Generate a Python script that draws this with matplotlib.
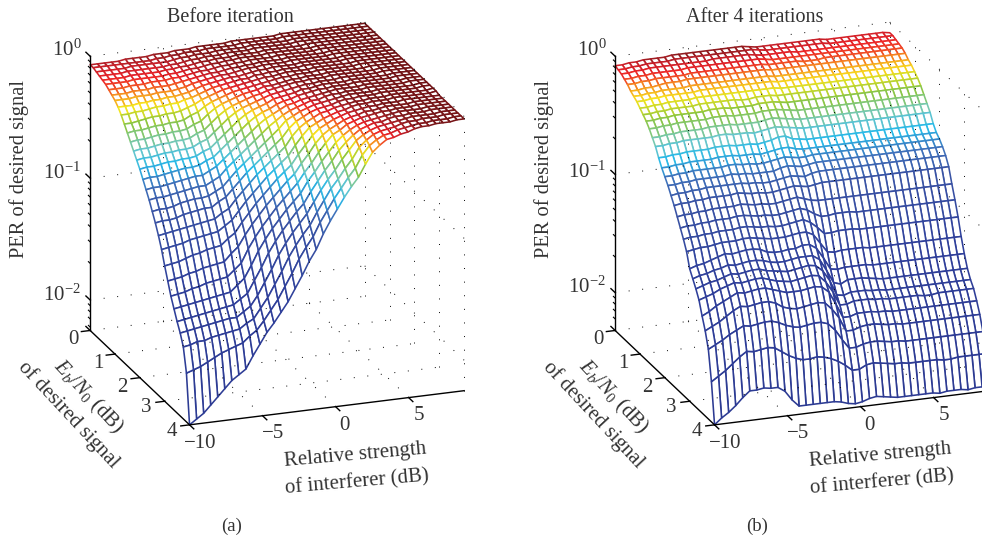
#draw the two PER mesh surfaces (before iteration / after 4 iterations)
import numpy as np
from matplotlib import pyplot as plt
from matplotlib.colors import LinearSegmentedColormap

plt.rcParams['font.family'] = 'Liberation Serif'
plt.rcParams['mathtext.fontset'] = 'custom'
plt.rcParams['mathtext.rm'] = 'Liberation Serif'
plt.rcParams['mathtext.it'] = 'Liberation Serif:italic'

interferer_db = np.linspace(-10, 8.8, 40)
ebn0_db = np.linspace(0, 4, 33)

x_ticks = [-10, -5, 0, 5]
y_ticks = [0, 1, 2, 3, 4]
z_ticks = [-2, -1, 0]

# -100*log10(PER), one list per interferer column, from Eb/N0 = 0 to 4 dB
before_per = [
    [7,7,8,9,10,11,13,15,17,20,24,29,34,39,44,49,54,60,66,72,79,86,94,103,114,124,134,142,150,157,166,185,225],
    [7,7,8,9,10,11,13,15,17,20,24,29,33,38,43,48,53,59,65,71,78,85,93,102,113,123,133,141,149,156,165,183,221],
    [7,7,8,9,10,11,13,15,17,20,23,28,33,38,43,48,53,59,65,71,78,85,92,101,112,122,132,140,148,155,163,181,217],
    [7,7,8,9,10,11,12,14,16,19,23,27,32,37,42,47,52,58,64,70,77,84,91,100,110,120,130,139,147,154,163,178,211],
    [7,7,8,8,9,10,12,14,16,19,22,26,31,36,41,46,51,57,63,69,75,82,90,98,108,119,129,138,146,153,161,175,205],
    [6,7,7,8,9,10,12,14,16,18,21,26,31,36,41,46,51,56,62,68,74,81,89,97,107,117,127,137,145,152,160,172,199],
    [6,7,7,8,9,10,11,13,15,18,21,25,30,35,40,45,50,55,61,67,73,80,88,96,105,116,126,136,144,151,159,170,193],
    [6,7,7,8,9,10,11,13,15,17,20,25,30,35,40,45,50,55,60,66,73,79,87,95,104,115,125,135,143,150,158,168,189],
    [6,7,7,8,9,10,11,13,15,17,20,24,29,34,39,44,49,54,60,66,72,79,86,94,103,114,124,134,142,150,157,166,185],
    [5,6,7,8,8,9,10,12,14,16,18,22,26,31,36,41,46,51,57,63,69,75,82,90,98,108,119,129,138,146,153,161,175],
    [5,6,7,7,8,9,10,11,13,15,17,20,24,29,34,39,44,49,54,60,66,72,79,86,94,103,114,124,134,142,150,157,166],
    [5,5,6,7,7,8,9,10,11,13,15,17,20,24,29,34,39,44,49,54,60,66,72,79,86,94,103,114,124,134,142,150,157],
    [4,5,5,6,7,7,8,9,10,11,13,15,17,20,24,29,34,39,44,49,54,60,66,72,79,86,94,103,114,124,134,142,150],
    [4,4,5,5,6,7,7,8,9,10,11,13,15,17,20,24,29,34,39,44,49,54,60,66,72,79,86,94,103,114,124,134,142],
    [4,4,4,5,5,6,7,7,8,9,10,11,13,15,17,20,24,29,34,39,44,49,54,60,66,72,79,86,94,103,114,124,134],
    [3,4,4,4,5,5,6,7,7,8,9,10,11,13,15,17,20,24,29,34,39,44,49,54,60,66,72,79,86,94,103,114,124],
    [3,3,4,4,4,5,5,6,7,7,8,9,10,11,13,15,17,20,24,29,34,39,44,49,54,60,66,72,79,86,94,103,114],
    [3,3,3,4,4,4,5,5,6,7,7,8,9,10,11,13,15,17,20,24,29,34,39,44,49,54,60,66,72,79,86,94,103],
    [3,3,3,3,4,4,4,5,5,6,7,7,8,9,10,11,13,15,17,20,24,29,34,39,44,49,54,60,66,72,79,86,94],
    [3,3,3,3,3,3,4,4,4,5,5,6,7,7,8,9,10,12,14,16,18,22,26,31,36,41,46,51,57,63,69,75,82],
    [2,3,3,3,3,3,3,4,4,4,5,5,6,7,7,8,9,10,11,13,15,17,20,24,29,34,39,44,49,54,60,66,72],
    [2,2,3,3,3,3,3,3,3,4,4,5,5,6,6,7,8,9,10,11,12,14,16,18,22,26,31,36,41,46,51,57,63],
    [2,2,2,2,3,3,3,3,3,3,4,4,4,5,5,6,7,7,8,9,10,11,13,15,17,20,24,29,34,39,44,49,54],
    [2,2,2,2,2,2,3,3,3,3,3,3,4,4,4,5,5,6,7,7,8,9,10,12,14,16,18,22,26,31,36,41,46],
    [2]*7+[3]*6+[4]*3+[5,5,6,7,7,8,9,10,11,13,15,17,20,24,29,34,39],
    [2]*9+[3]*6+[4]*3+[5,5,6,7,7,8,9,10,11,13,15,17,20,24,29],
    [2]*11+[3]*6+[4]*3+[5,5,6,7,7,8,9,10,11,13,15,17,20],
    [1,1]+[2]*11+[3]*6+[4]*3+[5,5,6,7,7,8,9,10,11,13,15],
    [1]*4+[2]*11+[3]*6+[4]*3+[5,5,6,7,7,8,9,10,11],
    [1]*5+[2]*11+[3]*6+[4]*3+[5,5,6,7,7,8,9,10],
    [1]*7+[2]*11+[3]*6+[4]*3+[5,5,6,7,7,8],
    [1]*9+[2]*11+[3]*6+[4]*3+[5,5,6,7],
    [1]*11+[2]*11+[3]*6+[4]*3+[5,5],
    [1]*13+[2]*11+[3]*6+[4]*3,
    [1]*14+[2]*11+[3]*6+[4]*2,
    [1]*16+[2]*11+[3]*6,
    [1]*18+[2]*11+[3]*4,
    [1]*20+[2]*11+[3]*2,
    [1]*22+[2]*11,
    [1]*24+[2]*9,
]

after_per = [
    [8,9,10,12,14,17,19,21,24,27,30,34,39,44,51,57,62,67,73,79,86,93,100,108,120,126,132,139,150,160,173,198,232],
    [8,9,10,12,14,17,19,21,24,27,30,34,39,44,51,57,62,67,72,78,85,92,99,107,118,124,130,137,147,157,170,194,227],
    [7,8,9,11,13,16,18,20,23,26,29,33,38,43,50,56,61,66,72,78,85,92,99,106,117,123,128,135,143,154,167,190,223],
    [7,8,9,11,13,16,18,20,23,26,29,33,38,43,50,56,61,66,71,77,84,91,98,106,115,121,127,132,140,150,163,185,218],
    [6,7,8,10,12,15,17,19,22,25,28,32,37,42,49,55,60,65,71,77,84,91,98,105,113,120,125,130,137,146,160,180,212],
    [6,7,8,10,12,14,17,19,22,25,28,32,37,42,49,55,60,65,70,76,83,90,97,104,111,118,123,128,134,143,157,176,207],
    [6,7,8,10,12,14,17,19,22,25,28,32,37,42,49,55,60,65,70,76,83,90,97,104,112,119,124,129,135,144,158,177,207],
    [6,7,8,10,12,14,17,19,22,25,28,32,37,42,49,55,60,65,70,76,83,90,97,104,111,118,123,128,134,143,157,176,206],
    [5,6,8,10,12,13,16,19,21,24,28,32,36,42,48,54,60,65,70,76,83,89,96,103,110,117,122,127,133,142,156,175,207],
    [5,6,8,9,11,13,16,18,21,24,27,31,36,41,48,54,59,64,70,75,82,89,96,103,110,117,122,127,133,142,156,176,207],
    [5,6,8,9,11,13,16,18,21,24,27,31,36,41,48,54,59,65,70,76,83,90,97,104,111,118,124,129,135,144,158,180,211],
    [5,6,8,9,11,13,16,18,21,24,27,31,36,42,49,55,60,65,71,77,84,91,98,105,114,120,125,131,137,148,161,184,219],
    [5,6,8,9,11,13,16,18,21,24,28,32,37,42,49,55,60,66,71,77,84,91,98,106,115,121,126,132,139,150,163,187,225],
    [5,6,7,9,11,13,16,18,21,24,28,32,37,42,49,55,61,66,72,78,85,92,99,106,115,121,127,133,139,151,164,189,225],
    [5,6,7,9,11,13,16,18,21,25,28,32,37,43,50,56,61,66,72,78,85,92,99,106,114,120,126,132,139,150,163,189,225],
    [5,6,7,9,11,13,16,18,21,25,28,32,37,42,49,55,60,66,71,77,84,91,98,105,114,119,125,131,138,149,162,188,225],
    [5,6,7,9,11,13,16,18,21,24,27,31,36,41,48,54,59,64,70,76,83,90,97,104,112,119,124,130,137,148,162,189,225],
    [5,6,7,9,11,13,16,18,21,24,27,31,35,40,46,53,58,63,69,75,82,89,96,104,112,119,125,131,138,149,164,191,225],
    [5,6,7,9,11,13,16,18,21,24,27,31,36,41,46,53,59,64,70,76,84,91,99,107,116,123,130,137,143,155,170,194,226],
    [6,6,8,9,11,13,16,18,21,25,28,32,37,42,49,55,60,65,71,77,86,95,104,115,125,133,139,146,154,163,179,198,228],
    [7,7,9,10,12,14,17,19,22,25,29,33,38,43,50,56,60,64,69,76,87,98,110,123,135,144,152,158,166,175,187,203,229],
    [7,8,9,11,12,14,17,19,22,25,29,34,39,44,51,56,59,63,68,75,87,98,110,124,136,146,153,158,166,175,187,203,228],
    [7,8,9,11,12,14,17,19,22,25,29,34,39,44,51,56,59,63,68,75,87,97,109,123,135,143,151,156,164,173,185,200,226],
    [7,8,9,11,12,14,17,19,22,25,29,34,39,44,51,56,59,63,68,75,87,97,109,123,135,143,151,156,164,172,184,199,225],
    [7,8,9,11,12,14,17,19,22,25,29,34,39,44,51,56,59,63,68,75,87,97,109,123,135,143,151,156,164,172,184,200,226],
    [7,8,10,11,13,14,17,19,22,25,29,34,39,44,51,56,59,63,68,75,87,98,110,123,135,144,152,157,165,173,185,201,227],
    [7,8,10,11,13,14,17,19,22,25,29,34,39,44,51,56,59,63,68,75,87,98,110,124,136,145,152,157,165,174,186,202,228],
    [7,8,10,11,13,14,17,19,22,25,29,34,39,44,51,56,59,63,68,75,87,98,110,124,136,146,153,158,166,174,186,202,228],
    [7,8,10,11,12,14,17,19,22,25,29,34,39,44,51,56,59,63,68,75,87,98,110,124,136,146,153,158,166,175,187,203,228],
    [7,8,10,11,12,14,17,19,22,25,29,34,39,44,51,56,59,63,68,75,87,98,110,124,136,146,153,158,166,175,187,203,228],
    [8,9,10,11,12,14,17,19,22,25,29,34,39,44,51,56,59,63,68,75,87,98,110,124,136,146,153,158,166,175,187,203,228],
    [8,9,10,11,12,14,17,19,22,25,29,34,39,44,51,56,59,63,68,75,87,98,110,124,136,146,153,158,166,175,187,203,228],
    [8,9,10,11,12,14,17,19,22,25,29,34,39,44,51,56,59,63,68,75,87,98,110,124,136,146,153,159,166,175,187,203,229],
    [8,9,10,11,12,14,17,19,22,25,29,34,39,44,51,56,59,63,68,75,87,98,110,124,136,146,153,159,166,175,187,204,228],
    [8,9,10,11,12,14,17,19,22,25,29,34,39,44,51,56,59,63,68,75,87,98,110,124,136,146,153,158,166,175,187,204,228],
    [8,9,10,11,12,14,17,19,22,25,29,34,39,44,51,56,59,63,68,75,87,98,110,124,136,146,153,158,166,175,187,203,228],
    [8,9,10,11,12,14,17,19,22,25,29,34,39,44,51,56,59,63,68,75,87,98,110,124,136,146,153,158,166,175,187,203,229],
    [8,9,10,11,12,14,17,19,22,25,29,34,39,44,51,56,59,63,68,75,87,98,110,124,136,146,153,158,166,175,187,203,228],
    [8,9,10,11,12,14,17,19,22,25,29,34,39,44,51,56,59,63,68,75,87,98,110,124,136,146,153,158,166,175,187,203,228],
    [9,9,10,11,12,14,17,19,22,25,29,34,39,44,51,56,59,63,68,75,87,98,110,124,136,146,153,158,166,175,187,203,228],
]

color_levels = [0, 3, 5, 7, 10, 15, 21, 30, 44, 54, 64, 80, 130, 240]
color_values = ['#6e1215', '#7a1518', '#941b1f', '#c0202a', '#ec2227', '#f58220', '#f8e71c', '#8dc63f',
                '#6fc8c8', '#29b9e8', '#3f72bb', '#3953a4', '#2f3f9a', '#2b3990']
per_cmap = LinearSegmentedColormap.from_list(
    'per', [(lv / color_levels[-1], c) for lv, c in zip(color_levels, color_values)])

text_color = '#333333'


def px_text(fig, px, py, s, size=11.5, rot=0):
    fig.text(px / 982.0, 1 - py / 544.0, s, fontsize=size, color=text_color, rotation=rot,
             rotation_mode='anchor', ha='center', va='center')


def plot_mesh(fig, left, per_cols, zmin):
    ax = fig.add_axes([left / 982.0, 68.4 / 544.0, 491 / 982.0, 491 / 544.0], projection='3d',
                      computed_zorder=False)
    ax.set_proj_type('ortho')
    ax.view_init(elev=20.1, azim=-109.9)
    ax.set_box_aspect((1, 1, 1))
    ax.set_xlim(-10, 8.8)
    ax.set_ylim(4, 0)
    ax.set_zlim(zmin, 0)
    ax.set_axis_off()
    ax.patch.set_alpha(0)

    v = np.array(per_cols, dtype=float).T
    X, Y = np.meshgrid(interferer_db, ebn0_db)
    surf = ax.plot_surface(X, Y, -v / 100.0, rstride=1, cstride=1, color='white', shade=False,
                           linewidth=1.15, antialiased=True, zorder=1)
    cell = (v[:-1, :-1] + v[1:, :-1] + v[:-1, 1:] + v[1:, 1:]) / 4.0
    surf.set_edgecolor(per_cmap(cell.ravel() / color_levels[-1]))

    # dotted grid on the floor and the two back walls
    dots = dict(color='black', lw=0.7, ls=(0, (1, 13)), zorder=2)
    xend = interferer_db[-1]
    for t in x_ticks[1:]:
        ax.plot([t, t], [0, 4], [zmin, zmin], **dots)
        ax.plot([t, t], [0, 0], [zmin, 0], **dots)
    for t in y_ticks[:-1]:
        ax.plot([-10, xend], [t, t], [zmin, zmin], **dots)
    for t in y_ticks:
        ax.plot([xend, xend], [t, t], [zmin, 0], **dots)
    for t in z_ticks:
        ax.plot([-10, xend], [0, 0], [t, t], **dots)
        ax.plot([xend, xend], [0, 4], [t, t], **dots)

    # solid axes and ticks
    solid = dict(color='black', lw=1.0, zorder=3)
    ax.plot([-10, -10], [0, 0], [zmin, 0], **solid)
    ax.plot([-10, -10], [0, 4], [zmin, zmin], **solid)
    ax.plot([-10, xend], [4, 4], [zmin, zmin], **solid)
    for t in x_ticks:
        ax.plot([t, t], [4, 4.17], [zmin, zmin], **solid)
    for t in y_ticks:
        ax.plot([-10, -10.6], [t, t], [zmin, zmin], **solid)
    for t in [zmin] + z_ticks:
        ax.plot([-10, -10], [0, -0.17], [t, t], **solid)
    for dec in z_ticks[:-1]:
        for m in [2, 3, 4, 5, 6, 7, 8, 9]:
            t = dec + np.log10(m)
            ax.plot([-10, -10], [0, -0.07], [t, t], color='black', lw=0.8, zorder=3)
    for m in [6, 7, 8, 9]:
        t = z_ticks[0] - 1 + np.log10(m)
        if t > zmin:
            ax.plot([-10, -10], [0, -0.07], [t, t], color='black', lw=0.8, zorder=3)
    return ax


fig = plt.figure(figsize=(9.82, 5.44), dpi=100)
plot_mesh(fig, 25, before_per, -2.25)
plot_mesh(fig, 550, after_per, -2.32)

for off, title, tag, y1, y2 in [(0, 'Before iteration', '(a)', 173, 295), (525, 'After 4 iterations', '(b)', 172, 287)]:
    px_text(fig, 230 + off, 17, title, size=14.5)
    px_text(fig, 232 + off, 526, tag, size=13.5)
    px_text(fig, 19 + off, 169, 'PER of desired signal', size=14.8, rot=90)
    px_text(fig, 67 + off, 50, r'$\mathrm{10^{0}}$', size=15)
    px_text(fig, 62 + off, y1, r'$\mathrm{10^{-1}}$', size=15)
    px_text(fig, 62 + off, y2, r'$\mathrm{10^{-2}}$', size=15)
    px_text(fig, 73 + off, 339, '0', size=15)
    for s, px, py in [('1', 98, 363), ('2', 122, 387), ('3', 146, 407), ('4', 172, 432),
                      ('\u221210', 200, 444), ('\u22125', 273, 434), ('0', 344, 426), ('5', 419, 416)]:
        px_text(fig, px + off, py, s, size=15)
    px_text(fig, 88 + off, 397, r'$E_b/N_0$ (dB)', size=15, rot=-47)
    px_text(fig, 68 + off, 415, 'of desired signal', size=15, rot=-47)
    px_text(fig, 355 + off, 455, 'Relative strength', size=15, rot=5)
    px_text(fig, 357 + off, 483, 'of interferer (dB)', size=15, rot=5)

plt.savefig('out.png', dpi=100)
